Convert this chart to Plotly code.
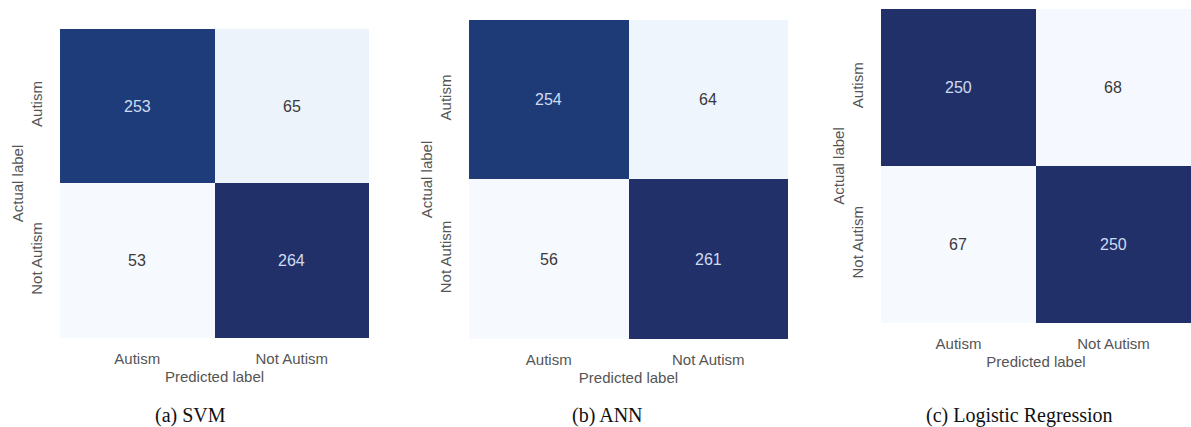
import plotly.graph_objects as go

labels = ["Autism", "Not Autism"]
svm = [[253, 65], [53, 264]]
ann = [[254, 64], [56, 261]]
logreg = [[250, 68], [67, 250]]
captions = ["(a) SVM", "(b) ANN", "(c) Logistic Regression"]
matrices = [svm, ann, logreg]

colorscale = [[0.0, "#f6f9fe"], [0.06, "#ebf3fb"], [0.5, "#8aa4c8"],
              [0.93, "#1e3d7b"], [0.97, "#1e3b78"], [1.0, "#22306a"]]

# panel placement (paper fractions)
xdoms = [(0.0504, 0.3098), (0.3938, 0.6616), (0.7397, 1.0)]
ydoms = [(0.2084, 0.9321), (0.2061, 0.9532), (0.2436, 0.9789)]
cap_x = [191 / 1191, 607 / 1191, 1020 / 1191]

fig = go.Figure()
annotations = []
for i, (z, cap) in enumerate(zip(matrices, captions)):
    sfx = "" if i == 0 else str(i + 1)
    xa, ya = "x" + sfx, "y" + sfx
    flat = [v for row in z for v in row]
    zmin, zmax = min(flat), max(flat)
    fig.add_trace(go.Heatmap(
        z=z, x=labels, y=labels, xaxis=xa, yaxis=ya,
        colorscale=colorscale, zmin=zmin, zmax=zmax, showscale=False,
        hoverinfo="z",
    ))
    for r, row in enumerate(z):
        for c, v in enumerate(row):
            frac = (v - zmin) / (zmax - zmin) if zmax > zmin else 1
            annotations.append(dict(
                x=labels[c], y=labels[r], xref=xa, yref=ya, text=str(v),
                showarrow=False,
                font=dict(family="Liberation Sans, Arial", size=16,
                          color="#cfdcf0" if frac > 0.5 else "#3a3a3a")))
    annotations.append(dict(
        x=cap_x[i], y=12 / 427, xref="paper", yref="paper", text=cap,
        showarrow=False, xanchor="center", yanchor="middle",
        font=dict(family="Liberation Serif, Times New Roman", size=20, color="#111")))
    axis_font = dict(family="Liberation Sans, Arial", size=15, color="#555")
    fig.update_layout(**{
        ("xaxis" + sfx): dict(domain=list(xdoms[i]), anchor=ya, showgrid=False,
                              zeroline=False, showline=False, ticks="outside",
                              ticklen=7, tickcolor="rgba(0,0,0,0)",
                              tickfont=axis_font,
                              title=dict(text="Predicted label", font=axis_font, standoff=5)),
        ("yaxis" + sfx): dict(domain=list(ydoms[i]), anchor=xa, showgrid=False,
                              zeroline=False, showline=False, autorange="reversed",
                              tickangle=-90, ticks="outside", ticklen=11,
                              tickcolor="rgba(0,0,0,0)", tickfont=axis_font,
                              title=dict(text="Actual label", font=axis_font, standoff=0)),
    })

fig.update_layout(
    width=1191, height=427, margin=dict(l=0, r=0, t=0, b=0),
    paper_bgcolor="white", plot_bgcolor="white",
    annotations=annotations, showlegend=False,
)
fig.write_html("out.html")
